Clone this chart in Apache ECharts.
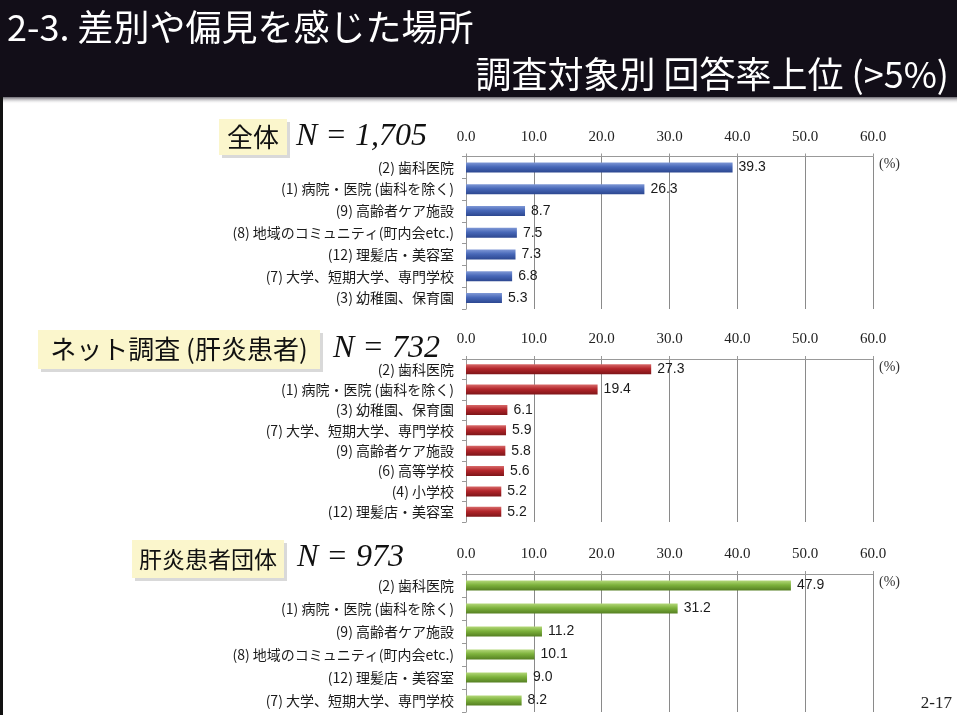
<!DOCTYPE html>
<html>
<head>
<meta charset="utf-8">
<script src="https://cdn.jsdelivr.net/npm/echarts@6/dist/echarts.min.js"></script>
<style>
  html, body { margin: 0; padding: 0; background: #fff; }
  #main { width: 957px; height: 715px; }
</style>
</head>
<body>
<div id="main"></div>
<script>
// 全体
var cats1 = ['(2) 歯科医院', '(1) 病院・医院 (歯科を除く)', '(9) 高齢者ケア施設', '(8) 地域のコミュニティ(町内会etc.)', '(12) 理髪店・美容室', '(7) 大学、短期大学、専門学校', '(3) 幼稚園、保育園'];
var vals1 = [39.3, 26.3, 8.7, 7.5, 7.3, 6.8, 5.3];
// ネット調査 (肝炎患者)
var cats2 = ['(2) 歯科医院', '(1) 病院・医院 (歯科を除く)', '(3) 幼稚園、保育園', '(7) 大学、短期大学、専門学校', '(9) 高齢者ケア施設', '(6) 高等学校', '(4) 小学校', '(12) 理髪店・美容室'];
var vals2 = [27.3, 19.4, 6.1, 5.9, 5.8, 5.6, 5.2, 5.2];
// 肝炎患者団体
var cats3 = ['(2) 歯科医院', '(1) 病院・医院 (歯科を除く)', '(9) 高齢者ケア施設', '(8) 地域のコミュニティ(町内会etc.)', '(12) 理髪店・美容室', '(7) 大学、短期大学、専門学校'];
var vals3 = [47.9, 31.2, 11.2, 10.1, 9.0, 8.2];

var axisMin = 0, axisMax = 60, axisStep = 10;

var cjk = '"Noto Sans CJK JP", sans-serif';
var serif = '"Liberation Serif", serif';

function grad(top, mid, bottom) {
    return new echarts.graphic.LinearGradient(0, 0, 0, 1, [
        {offset: 0, color: top},
        {offset: 0.45, color: mid},
        {offset: 1, color: bottom}
    ]);
}

function xAxisFor(idx) {
    return {
        gridIndex: idx,
        type: 'value',
        position: 'top',
        min: axisMin,
        max: axisMax,
        interval: axisStep,
        name: '(%)',
        nameLocation: 'end',
        nameGap: 6,
        nameTextStyle: {fontFamily: serif, fontSize: 14, color: '#333', verticalAlign: 'top', padding: [1, 0, 0, 0]},
        axisLine: {show: true, lineStyle: {color: '#999', width: 1}},
        axisTick: {show: true, length: 3, lineStyle: {color: '#999'}},
        axisLabel: {
            fontFamily: serif, fontSize: 15, color: '#222', margin: 12,
            formatter: function (v) { return v.toFixed(1); }
        },
        splitLine: {show: true, lineStyle: {color: '#8a8a8a', width: 1}}
    };
}

function yAxisFor(idx, cats) {
    return {
        gridIndex: idx,
        type: 'category',
        inverse: true,
        data: cats,
        axisLine: {show: true, lineStyle: {color: '#999'}},
        axisTick: {show: true, length: 4, lineStyle: {color: '#999'}},
        axisLabel: {fontFamily: cjk, fontSize: 14, color: '#1a1a1a', margin: 12}
    };
}

function seriesFor(idx, name, vals, color) {
    return {
        name: name,
        type: 'bar',
        xAxisIndex: idx,
        yAxisIndex: idx,
        data: vals,
        barWidth: 10,
        itemStyle: {color: color},
        label: {
            show: true,
            position: 'right',
            distance: 6,
            fontFamily: '"Liberation Sans", sans-serif',
            fontSize: 14,
            color: '#1a1a1a',
            formatter: function (p) { return p.value.toFixed(1); }
        }
    };
}

function titleBox(x, y, w, h, text, size) {
    return {
        type: 'group',
        children: [
            {type: 'rect', shape: {x: x + 3, y: y + 3, width: w, height: h}, style: {fill: 'rgba(0,0,0,0.15)'}},
            {type: 'rect', shape: {x: x, y: y, width: w, height: h}, style: {fill: '#fbf6cc'}},
            {type: 'text', x: x + w / 2, y: y + h / 2, style: {text: text, fill: '#111', font: size + 'px ' + cjk, align: 'center', verticalAlign: 'middle'}}
        ]
    };
}

function nText(x, y, text) {
    return {type: 'text', x: x, y: y, style: {text: text, fill: '#111', font: 'italic 32px ' + serif, verticalAlign: 'middle'}};
}

var option = {
    backgroundColor: '#ffffff',
    animation: false,
    grid: [
        {left: 466, right: 84, top: 156.5, height: 152.5},
        {left: 466, right: 84, top: 359, height: 163},
        {left: 466, right: 84, top: 574, height: 138}
    ],
    xAxis: [xAxisFor(0), xAxisFor(1), xAxisFor(2)],
    yAxis: [yAxisFor(0, cats1), yAxisFor(1, cats2), yAxisFor(2, cats3)],
    series: [
        seriesFor(0, '全体', vals1, grad('#7f98d6', '#4868b8', '#2c4790')),
        seriesFor(1, 'ネット調査 (肝炎患者)', vals2, grad('#d86a6a', '#b3262b', '#7e1518')),
        seriesFor(2, '肝炎患者団体', vals3, grad('#b4d87a', '#7db23c', '#557f22'))
    ],
    graphic: [
        // header band
        {type: 'rect', shape: {x: 0, y: 0, width: 957, height: 97}, style: {fill: '#120e18'}},
        {type: 'rect', shape: {x: 0, y: 97, width: 957, height: 7},
            style: {fill: new echarts.graphic.LinearGradient(0, 0, 0, 1, [{offset: 0, color: '#6b6870'}, {offset: 1, color: 'rgba(255,255,255,0)'}])}},
        {type: 'text', x: 7, y: 27, style: {text: '2-3. 差別や偏見を感じた場所', fill: '#ffffff', font: '36px ' + cjk, verticalAlign: 'middle'}},
        {type: 'text', x: 949, y: 74, style: {text: '調査対象別 回答率上位 (>5%)', fill: '#ffffff', font: '36px ' + cjk, align: 'right', verticalAlign: 'middle'}},
        // left border
        {type: 'rect', shape: {x: 0, y: 97, width: 3, height: 618}, style: {fill: '#111'}},
        titleBox(219, 119, 68, 36, '全体', 26),
        nText(296, 137, 'N = 1,705'),
        titleBox(38, 330, 282, 39, 'ネット調査 (肝炎患者)', 26),
        nText(333, 349, 'N = 732'),
        titleBox(132, 540, 152, 38, '肝炎患者団体', 23),
        nText(297, 558, 'N = 973'),
        {type: 'text', x: 952, y: 704, style: {text: '2-17', fill: '#222', font: '17px ' + serif, align: 'right', verticalAlign: 'middle'}}
    ]
};

var chart = echarts.init(document.getElementById('main'));
chart.setOption(option);
</script>
</body>
</html>
